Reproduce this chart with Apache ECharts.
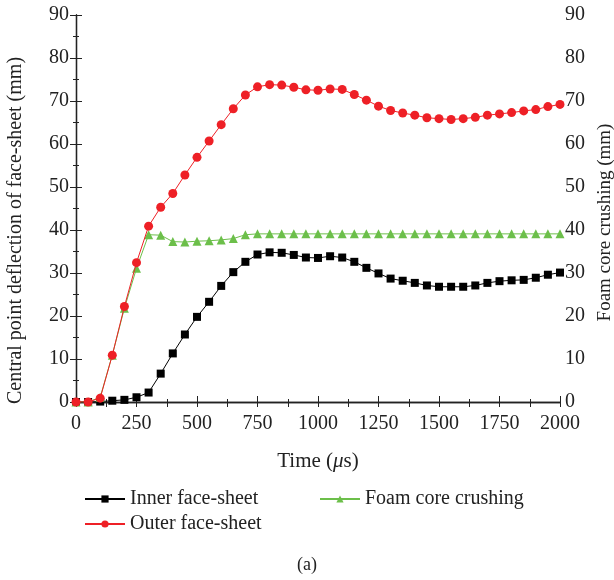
<!DOCTYPE html>
<html><head><meta charset="utf-8">
<script src="https://cdn.jsdelivr.net/npm/echarts@6/dist/echarts.min.js"></script>
<style>html,body{margin:0;padding:0;background:#fff}#c{width:614px;height:580px}</style>
</head><body><div id="c"></div>
<script>
var times = [0,50,100,150,200,250,300,350,400,450,500,550,600,650,700,750,800,850,900,950,1000,1050,1100,1150,1200,1250,1300,1350,1400,1450,1500,1550,1600,1650,1700,1750,1800,1850,1900,1950,2000];
var inner = [0,0,0.1,0.3,0.5,1.1,2.2,6.6,11.3,15.7,19.8,23.3,27.0,30.2,32.6,34.3,34.8,34.7,34.2,33.6,33.5,33.9,33.6,32.6,31.2,29.9,28.7,28.2,27.7,27.1,26.8,26.8,26.8,27.1,27.7,28.1,28.3,28.4,28.9,29.6,30.1];
var outer = [0,0,0.9,10.9,22.2,32.4,40.9,45.3,48.5,52.8,56.9,60.7,64.5,68.2,71.4,73.3,73.8,73.7,73.2,72.6,72.5,72.8,72.7,71.5,70.2,68.8,67.8,67.2,66.7,66.1,65.9,65.7,65.9,66.2,66.7,67.0,67.3,67.7,68.0,68.7,69.2];
var foam = [0,0,1.1,10.9,21.8,31.1,38.9,38.8,37.3,37.2,37.4,37.5,37.7,38.0,38.9,39.1,39.1,39.1,39.1,39.1,39.1,39.1,39.1,39.1,39.1,39.1,39.1,39.1,39.1,39.1,39.1,39.1,39.1,39.1,39.1,39.1,39.1,39.1,39.1,39.1,39.1];
var xTicks = [0,250,500,750,1000,1250,1500,1750,2000];
var yTicks = [0,10,20,30,40,50,60,70,80,90];

function pairs(v){ return times.map(function(t,i){ return [t, v[i]]; }); }
var FONT = '"Liberation Serif","DejaVu Serif",serif';
var axisLine = {show:true, lineStyle:{color:'#222', width:1.3}};
var lbl = {fontFamily:FONT, fontSize:20, color:'#222', formatter:function(v){return String(v);}};

var chart = echarts.init(document.getElementById('c'), null, {renderer:'canvas'});
chart.setOption({
  animation:false,
  backgroundColor:'#fff',
  grid:{left:76, right:54, top:15, bottom:178, containLabel:false, outerBoundsMode:'none'},
  legend:[
    {left:79, top:484, orient:'vertical', itemWidth:40, itemHeight:9, itemGap:5,
     textStyle:{fontFamily:FONT, fontSize:20, color:'#222'},
     data:['Inner face-sheet','Outer face-sheet']},
    {left:314, top:484, orient:'vertical', itemWidth:40, itemHeight:9,
     textStyle:{fontFamily:FONT, fontSize:20, color:'#222'},
     data:['Foam core crushing']}
  ],
  graphic:[{type:'text', left:'center', top:556, style:{text:'(a)', font:'18px '+FONT, fill:'#222'}}],
  xAxis:[
    {type:'value', min:0, max:2000, interval:250, position:'bottom',
     name:'Time ({i|μ}s)', nameLocation:'middle', nameGap:49,
     nameTextStyle:{fontFamily:FONT, fontSize:21, color:'#222', rich:{i:{fontFamily:FONT, fontSize:21, fontStyle:'italic', color:'#222'}}},
     axisLine:axisLine, axisTick:{inside:true, length:6, lineStyle:{color:'#222'}},
     minorTick:{show:true, splitNumber:2, length:3, lineStyle:{color:'#222'}},
     axisLabel:Object.assign({margin:12}, lbl), splitLine:{show:false}},
    {type:'value', min:0, max:2000, interval:250, position:'top',
     axisLine:axisLine, axisTick:{inside:true, length:5, lineStyle:{color:'#222'}},
     minorTick:{show:true, splitNumber:2, length:5, lineStyle:{color:'#222'}},
     axisLabel:{show:false}, splitLine:{show:false}}
  ],
  yAxis:[
    {type:'value', min:0, max:90, interval:10, position:'left',
     name:'Central point deflection of face-sheet (mm)', nameLocation:'middle', nameGap:50,
     nameTextStyle:{fontFamily:FONT, fontSize:20, color:'#222', padding:[0,44,0,0]},
     axisLine:axisLine, axisTick:{inside:true, length:6, lineStyle:{color:'#222'}},
     minorTick:{show:true, splitNumber:2, length:3, lineStyle:{color:'#222'}},
     axisLabel:Object.assign({margin:7}, lbl), splitLine:{show:false}},
    {type:'value', min:0, max:90, interval:10, position:'right',
     name:'Foam core crushing (mm)', nameLocation:'middle', nameGap:36, nameRotate:90,
     nameTextStyle:{fontFamily:FONT, fontSize:19, color:'#222', padding:[0,28,0,0]},
     axisLine:axisLine, axisTick:{inside:true, length:6, lineStyle:{color:'#222'}},
     minorTick:{show:true, splitNumber:2, length:3, lineStyle:{color:'#222'}},
     axisLabel:Object.assign({margin:5}, lbl), splitLine:{show:false}}
  ],
  series:[
    {name:'Inner face-sheet', type:'line', data:pairs(inner), xAxisIndex:0, yAxisIndex:0,
     symbol:'rect', symbolSize:8, z:3,
     lineStyle:{color:'#000', width:1}, itemStyle:{color:'#000'}},
    {name:'Foam core crushing', type:'line', data:pairs(foam), xAxisIndex:0, yAxisIndex:1,
     symbol:'triangle', symbolSize:9, z:4,
     lineStyle:{color:'#6cbf4a', width:1}, itemStyle:{color:'#6cbf4a'}},
    {name:'Outer face-sheet', type:'line', data:pairs(outer), xAxisIndex:0, yAxisIndex:0,
     symbol:'circle', symbolSize:9, z:5,
     lineStyle:{color:'#ee2026', width:1}, itemStyle:{color:'#ee2026'}}
  ]
});
</script></body></html>
